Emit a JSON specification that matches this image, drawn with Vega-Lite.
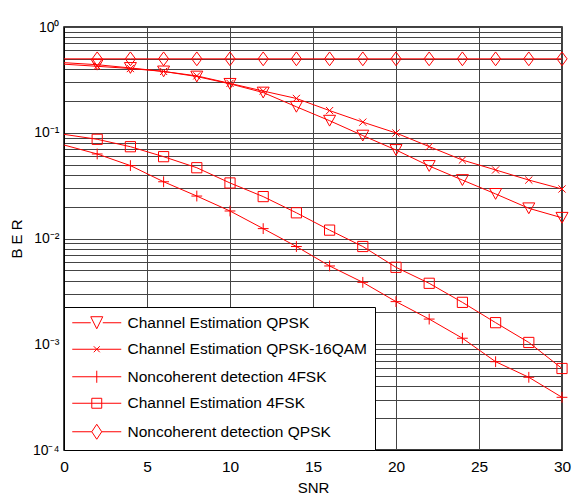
{
  "$schema": "https://vega.github.io/schema/vega-lite/v6.json",
  "width": 498,
  "height": 423,
  "autosize": {"type": "none"},
  "padding": {"left": 64, "top": 27, "right": 10, "bottom": 49},
  "background": "white",
  "config": {
    "view": {"stroke": "black", "strokeWidth": 1.5},
    "font": "Liberation Sans",
    "axis": {
      "labelFont": "Liberation Sans",
      "titleFont": "Liberation Sans",
      "labelFontSize": 15.5,
      "titleFontSize": 15,
      "titleFontWeight": "normal",
      "labelColor": "black",
      "titleColor": "black",
      "domainColor": "black",
      "gridColor": "#444444",
      "gridOpacity": 1,
      "gridWidth": 1,
      "ticks": false
    },
    "legend": {
      "labelFont": "Liberation Sans",
      "labelFontSize": 15.5,
      "labelColor": "black"
    }
  },
  "data": {
    "values": [
      {"snr": 0, "ber": 0.46, "series": "Channel Estimation QPSK"},
      {"snr": 2, "ber": 0.44, "series": "Channel Estimation QPSK"},
      {"snr": 4, "ber": 0.41, "series": "Channel Estimation QPSK"},
      {"snr": 6, "ber": 0.38, "series": "Channel Estimation QPSK"},
      {"snr": 8, "ber": 0.34, "series": "Channel Estimation QPSK"},
      {"snr": 10, "ber": 0.29, "series": "Channel Estimation QPSK"},
      {"snr": 12, "ber": 0.24, "series": "Channel Estimation QPSK"},
      {"snr": 14, "ber": 0.176, "series": "Channel Estimation QPSK"},
      {"snr": 16, "ber": 0.13, "series": "Channel Estimation QPSK"},
      {"snr": 18, "ber": 0.094, "series": "Channel Estimation QPSK"},
      {"snr": 20, "ber": 0.0687, "series": "Channel Estimation QPSK"},
      {"snr": 22, "ber": 0.0485, "series": "Channel Estimation QPSK"},
      {"snr": 24, "ber": 0.0357, "series": "Channel Estimation QPSK"},
      {"snr": 26, "ber": 0.0264, "series": "Channel Estimation QPSK"},
      {"snr": 28, "ber": 0.0193, "series": "Channel Estimation QPSK"},
      {"snr": 30, "ber": 0.0157, "series": "Channel Estimation QPSK"},
      {"snr": 0, "ber": 0.445, "series": "Channel Estimation QPSK-16QAM"},
      {"snr": 2, "ber": 0.425, "series": "Channel Estimation QPSK-16QAM"},
      {"snr": 4, "ber": 0.405, "series": "Channel Estimation QPSK-16QAM"},
      {"snr": 6, "ber": 0.38, "series": "Channel Estimation QPSK-16QAM"},
      {"snr": 8, "ber": 0.345, "series": "Channel Estimation QPSK-16QAM"},
      {"snr": 10, "ber": 0.293, "series": "Channel Estimation QPSK-16QAM"},
      {"snr": 12, "ber": 0.248, "series": "Channel Estimation QPSK-16QAM"},
      {"snr": 14, "ber": 0.211, "series": "Channel Estimation QPSK-16QAM"},
      {"snr": 16, "ber": 0.162, "series": "Channel Estimation QPSK-16QAM"},
      {"snr": 18, "ber": 0.126, "series": "Channel Estimation QPSK-16QAM"},
      {"snr": 20, "ber": 0.0995, "series": "Channel Estimation QPSK-16QAM"},
      {"snr": 22, "ber": 0.074, "series": "Channel Estimation QPSK-16QAM"},
      {"snr": 24, "ber": 0.0552, "series": "Channel Estimation QPSK-16QAM"},
      {"snr": 26, "ber": 0.0445, "series": "Channel Estimation QPSK-16QAM"},
      {"snr": 28, "ber": 0.0357, "series": "Channel Estimation QPSK-16QAM"},
      {"snr": 30, "ber": 0.0294, "series": "Channel Estimation QPSK-16QAM"},
      {"snr": 0, "ber": 0.0766, "series": "Noncoherent detection 4FSK"},
      {"snr": 2, "ber": 0.063, "series": "Noncoherent detection 4FSK"},
      {"snr": 4, "ber": 0.0489, "series": "Noncoherent detection 4FSK"},
      {"snr": 6, "ber": 0.0344, "series": "Noncoherent detection 4FSK"},
      {"snr": 8, "ber": 0.0252, "series": "Noncoherent detection 4FSK"},
      {"snr": 10, "ber": 0.0182, "series": "Noncoherent detection 4FSK"},
      {"snr": 12, "ber": 0.0124, "series": "Noncoherent detection 4FSK"},
      {"snr": 14, "ber": 0.0084, "series": "Noncoherent detection 4FSK"},
      {"snr": 16, "ber": 0.0055, "series": "Noncoherent detection 4FSK"},
      {"snr": 18, "ber": 0.00385, "series": "Noncoherent detection 4FSK"},
      {"snr": 20, "ber": 0.00253, "series": "Noncoherent detection 4FSK"},
      {"snr": 22, "ber": 0.00173, "series": "Noncoherent detection 4FSK"},
      {"snr": 24, "ber": 0.00114, "series": "Noncoherent detection 4FSK"},
      {"snr": 26, "ber": 0.000684, "series": "Noncoherent detection 4FSK"},
      {"snr": 28, "ber": 0.000487, "series": "Noncoherent detection 4FSK"},
      {"snr": 30, "ber": 0.000315, "series": "Noncoherent detection 4FSK"},
      {"snr": 0, "ber": 0.0966, "series": "Channel Estimation 4FSK"},
      {"snr": 2, "ber": 0.0867, "series": "Channel Estimation 4FSK"},
      {"snr": 4, "ber": 0.0738, "series": "Channel Estimation 4FSK"},
      {"snr": 6, "ber": 0.0594, "series": "Channel Estimation 4FSK"},
      {"snr": 8, "ber": 0.0467, "series": "Channel Estimation 4FSK"},
      {"snr": 10, "ber": 0.0335, "series": "Channel Estimation 4FSK"},
      {"snr": 12, "ber": 0.0249, "series": "Channel Estimation 4FSK"},
      {"snr": 14, "ber": 0.0175, "series": "Channel Estimation 4FSK"},
      {"snr": 16, "ber": 0.012, "series": "Channel Estimation 4FSK"},
      {"snr": 18, "ber": 0.0084, "series": "Channel Estimation 4FSK"},
      {"snr": 20, "ber": 0.00534, "series": "Channel Estimation 4FSK"},
      {"snr": 22, "ber": 0.00377, "series": "Channel Estimation 4FSK"},
      {"snr": 24, "ber": 0.00249, "series": "Channel Estimation 4FSK"},
      {"snr": 26, "ber": 0.0016, "series": "Channel Estimation 4FSK"},
      {"snr": 28, "ber": 0.00104, "series": "Channel Estimation 4FSK"},
      {"snr": 30, "ber": 0.00059, "series": "Channel Estimation 4FSK"},
      {"snr": 0, "ber": 0.5, "series": "Noncoherent detection QPSK"},
      {"snr": 2, "ber": 0.5, "series": "Noncoherent detection QPSK"},
      {"snr": 4, "ber": 0.5, "series": "Noncoherent detection QPSK"},
      {"snr": 6, "ber": 0.5, "series": "Noncoherent detection QPSK"},
      {"snr": 8, "ber": 0.5, "series": "Noncoherent detection QPSK"},
      {"snr": 10, "ber": 0.5, "series": "Noncoherent detection QPSK"},
      {"snr": 12, "ber": 0.5, "series": "Noncoherent detection QPSK"},
      {"snr": 14, "ber": 0.5, "series": "Noncoherent detection QPSK"},
      {"snr": 16, "ber": 0.5, "series": "Noncoherent detection QPSK"},
      {"snr": 18, "ber": 0.5, "series": "Noncoherent detection QPSK"},
      {"snr": 20, "ber": 0.5, "series": "Noncoherent detection QPSK"},
      {"snr": 22, "ber": 0.5, "series": "Noncoherent detection QPSK"},
      {"snr": 24, "ber": 0.5, "series": "Noncoherent detection QPSK"},
      {"snr": 26, "ber": 0.5, "series": "Noncoherent detection QPSK"},
      {"snr": 28, "ber": 0.5, "series": "Noncoherent detection QPSK"},
      {"snr": 30, "ber": 0.5, "series": "Noncoherent detection QPSK"}
    ]
  },
  "encoding": {
    "x": {
      "field": "snr",
      "type": "quantitative",
      "title": "SNR",
      "scale": {"domain": [0, 30], "nice": false, "zero": false},
      "axis": {
        "values": [0, 5, 10, 15, 20, 25, 30],
        "grid": true,
        "labelPadding": 9,
        "titlePadding": 6,
        "labelFlush": false
      }
    },
    "y": {
      "field": "ber",
      "type": "quantitative",
      "title": "B E R",
      "scale": {"type": "log", "domain": [0.0001, 1], "nice": false},
      "axis": {
        "values": [0.0001, 0.0002, 0.0003, 0.0004, 0.0005, 0.0006, 0.0007, 0.0008, 0.0009,
                   0.001, 0.002, 0.003, 0.004, 0.005, 0.006, 0.007, 0.008, 0.009,
                   0.01, 0.02, 0.03, 0.04, 0.05, 0.06, 0.07, 0.08, 0.09,
                   0.1, 0.2, 0.3, 0.4, 0.5, 0.6, 0.7, 0.8, 0.9, 1],
        "grid": true,
        "labelOverlap": false,
        "labelFlush": false,
        "labelFontSize": 14,
        "labelPadding": 5,
        "titlePadding": 8,
        "labelExpr": "datum.value == 1 ? '10⁰' : datum.value == 0.1 ? '10⁻¹' : datum.value == 0.01 ? '10⁻²' : datum.value == 0.001 ? '10⁻³' : datum.value == 0.0001 ? '10⁻⁴' : ''"
      }
    }
  },
  "layer": [
    {
      "mark": {"type": "line", "color": "#ff0000", "strokeWidth": 1},
      "encoding": {"detail": {"field": "series"}}
    },
    {
      "transform": [{"filter": "datum.snr > 0"}],
      "mark": {"type": "point", "filled": false, "color": "#ff0000", "strokeWidth": 1, "size": 144, "opacity": 1},
      "encoding": {
        "shape": {
          "field": "series",
          "type": "nominal",
          "legend": null,
          "scale": {
            "domain": ["Channel Estimation QPSK", "Channel Estimation QPSK-16QAM", "Noncoherent detection 4FSK", "Channel Estimation 4FSK", "Noncoherent detection QPSK"],
            "range": [
              "M-1,-0.9H1L0,0.9Z",
              "M-0.6,-0.6L0.6,0.6M-0.6,0.6L0.6,-0.6",
              "M-0.9,0H0.9M0,-0.9V0.9",
              "M-0.85,-0.85H0.85V0.85H-0.85Z",
              "M0,-1.15L0.85,0L0,1.15L-0.85,0Z"
            ]
          }
        }
      }
    },
    {
      "transform": [{"filter": "false"}],
      "mark": {"type": "point", "filled": false, "color": "#ff0000", "strokeWidth": 1, "opacity": 1},
      "encoding": {
        "shape": {
          "field": "series",
          "type": "nominal",
          "scale": {
            "domain": ["Channel Estimation QPSK", "Channel Estimation QPSK-16QAM", "Noncoherent detection 4FSK", "Channel Estimation 4FSK", "Noncoherent detection QPSK"],
            "range": [
              "M-1.07,0H1.57M3.29,0H5.93M1.57,-0.86H3.29L2.43,0.86Z",
              "M-1.07,0H5.93M2,-0.43L2.86,0.43M2,0.43L2.86,-0.43",
              "M-1.07,0H5.93M2.43,-0.86V0.86",
              "M-1.07,0H5.93M1.72,-0.71H3.14V0.71H1.72Z",
              "M-1.07,0H1.72M3.14,0H5.93M2.43,-1.07L3.14,0L2.43,1.07L1.72,0Z"
            ]
          },
          "legend": {
            "title": null,
            "orient": "bottom-left",
            "offset": 0,
            "padding": 8,
            "symbolSize": 196,
            "symbolStrokeWidth": 1,
            "symbolStrokeColor": "#ff0000",
            "symbolFillColor": "transparent",
            "symbolOpacity": 1,
            "labelOffset": 40,
            "rowPadding": 9.5,
            "strokeColor": "black",
            "fillColor": "white",
            "labelLimit": 400,
            "encode": {"legend": {"update": {"strokeWidth": {"value": 1.5}}}}
          }
        }
      }
    }
  ],
  "resolve": {"scale": {"shape": "independent"}, "legend": {"shape": "independent"}}
}
